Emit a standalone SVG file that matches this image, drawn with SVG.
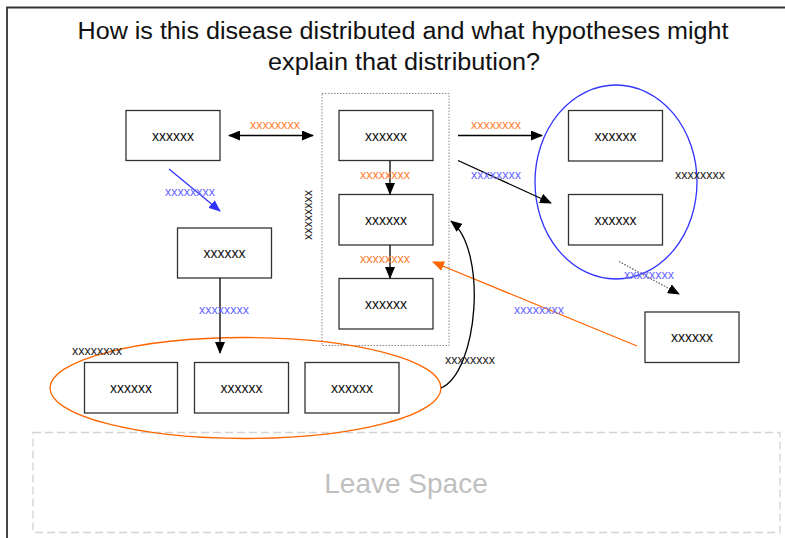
<svg xmlns="http://www.w3.org/2000/svg" width="785" height="538" viewBox="0 0 785 538">
<style>
.box rect{fill:#fff;stroke:#333;stroke-width:1.3}
.box text{font-family:"Liberation Sans",Arial,sans-serif;font-size:14px;fill:#111;text-anchor:middle}
.lbl{font-family:"Liberation Sans",Arial,sans-serif;font-size:12.5px;text-anchor:middle}
.or{fill:#ff8033}.bl{fill:#6666ff}.bk{fill:#222}
.title{font-family:"Liberation Sans",Arial,sans-serif;font-size:23px;fill:#111;text-anchor:middle}
</style>
<defs>
<marker id="ah" markerUnits="userSpaceOnUse" markerWidth="12" markerHeight="10" refX="11" refY="5" orient="auto"><path d="M0,0 L12,5 L0,10 Z" fill="#000"/></marker>
<marker id="ahs" markerUnits="userSpaceOnUse" markerWidth="12" markerHeight="10" refX="11" refY="5" orient="auto-start-reverse"><path d="M0,0 L12,5 L0,10 Z" fill="#000"/></marker>
<marker id="ahb" markerUnits="userSpaceOnUse" markerWidth="12" markerHeight="10" refX="11" refY="5" orient="auto"><path d="M0,0 L12,5 L0,10 Z" fill="#3333ff"/></marker>
<marker id="aho" markerUnits="userSpaceOnUse" markerWidth="12" markerHeight="10" refX="11" refY="5" orient="auto"><path d="M0,0 L12,5 L0,10 Z" fill="#ff6600"/></marker>
</defs>
<rect width="785" height="538" fill="#fff"/>
<path d="M7,540 L7,7.5 L790,7.5" fill="none" stroke="#333" stroke-width="1.8"/>
<g id="title">
<text class="title" x="403" y="39" textLength="651" lengthAdjust="spacingAndGlyphs">How is this disease distributed and what hypotheses might</text>
<text class="title" x="404" y="70" textLength="272" lengthAdjust="spacingAndGlyphs">explain that distribution?</text>
</g>
<g id="leave-space">
<rect x="33" y="432.5" width="747" height="100" fill="none" stroke="#d3d3d3" stroke-width="1.3" stroke-dasharray="8,4"/>
<text x="406" y="493" font-family="'Liberation Sans',Arial,sans-serif" font-size="28" fill="#c0c0c0" text-anchor="middle">Leave Space</text>
</g>
<g id="group-center">
<rect x="322" y="93.5" width="127" height="252" fill="none" stroke="#888" stroke-width="1" stroke-dasharray="1.5,1.5"/>
</g>
<g id="group-right"><ellipse cx="616" cy="182" rx="81" ry="97" fill="none" stroke="#3333ff" stroke-width="1.3"/></g>
<g id="group-bottom"><ellipse cx="245.5" cy="388" rx="195.5" ry="50.5" fill="none" stroke="#ff6600" stroke-width="1.3"/></g>
<g id="nodes">
<g id="n-a" class="box"><rect x="126" y="110.5" width="94" height="50"/><text x="173" y="140.5">xxxxxx</text></g>
<g id="n-b" class="box"><rect x="177.5" y="228" width="94" height="50"/><text x="224.5" y="258">xxxxxx</text></g>
<g id="n-c1" class="box"><rect x="339" y="110.5" width="94" height="50"/><text x="386" y="140.5">xxxxxx</text></g>
<g id="n-c2" class="box"><rect x="339" y="194.5" width="94" height="50.5"/><text x="386" y="224.5">xxxxxx</text></g>
<g id="n-c3" class="box"><rect x="339" y="278.5" width="94" height="50.5"/><text x="386" y="308.5">xxxxxx</text></g>
<g id="n-r1" class="box"><rect x="568.5" y="110.5" width="94" height="50.5"/><text x="615.5" y="140.5">xxxxxx</text></g>
<g id="n-r2" class="box"><rect x="568.5" y="194.5" width="94" height="50.5"/><text x="615.5" y="224.5">xxxxxx</text></g>
<g id="n-r3" class="box"><rect x="645" y="312" width="94" height="50.5"/><text x="692" y="342">xxxxxx</text></g>
<g id="n-d1" class="box"><rect x="84.5" y="362.5" width="93" height="50.5"/><text x="131" y="392.5">xxxxxx</text></g>
<g id="n-d2" class="box"><rect x="194.5" y="362.5" width="94" height="50.5"/><text x="241.5" y="392.5">xxxxxx</text></g>
<g id="n-d3" class="box"><rect x="305" y="362.5" width="94" height="50.5"/><text x="352" y="392.5">xxxxxx</text></g>
</g>
<g id="connectors" fill="none" stroke-width="1.3">
<line x1="229" y1="135.5" x2="313" y2="135.5" stroke="#000" marker-start="url(#ahs)" marker-end="url(#ah)"/>
<line x1="169" y1="169" x2="220" y2="211" stroke="#3333ff" marker-end="url(#ahb)"/>
<line x1="390" y1="161" x2="390" y2="194" stroke="#000" marker-end="url(#ah)"/>
<line x1="390" y1="245" x2="390" y2="278" stroke="#000" marker-end="url(#ah)"/>
<line x1="458" y1="135.5" x2="542" y2="135.5" stroke="#000" marker-end="url(#ah)"/>
<line x1="458" y1="160.5" x2="551" y2="203" stroke="#000" marker-end="url(#ah)"/>
<line x1="619" y1="261.5" x2="679" y2="294" stroke="#666" stroke-dasharray="1.5,1.5" marker-end="url(#ah)"/>
<line x1="637" y1="346" x2="433" y2="262" stroke="#ff6600" marker-end="url(#aho)"/>
<path d="M441,388 C478,372 488,250 451,221" stroke="#000" marker-end="url(#ah)"/>
<line x1="220" y1="278" x2="220" y2="353" stroke="#000" marker-end="url(#ah)"/>
</g>
<g id="labels">
<text class="lbl or" x="275" y="129">xxxxxxxx</text>
<text class="lbl bl" x="190" y="195.5">xxxxxxxx</text>
<text class="lbl or" x="385" y="179">xxxxxxxx</text>
<text class="lbl or" x="385" y="263">xxxxxxxx</text>
<text class="lbl bk" transform="translate(304.5,215) rotate(90)" x="0" y="0">xxxxxxxx</text>
<text class="lbl or" x="496" y="128.5">xxxxxxxx</text>
<text class="lbl bl" x="496" y="179">xxxxxxxx</text>
<text class="lbl bk" x="700" y="179">xxxxxxxx</text>
<text class="lbl bl" x="649" y="279">xxxxxxxx</text>
<text class="lbl bl" x="539" y="314">xxxxxxxx</text>
<text class="lbl bk" x="470" y="363.5">xxxxxxxx</text>
<text class="lbl bl" x="224" y="314">xxxxxxxx</text>
<text class="lbl bk" x="97" y="355">xxxxxxxx</text>
</g>
</svg>
